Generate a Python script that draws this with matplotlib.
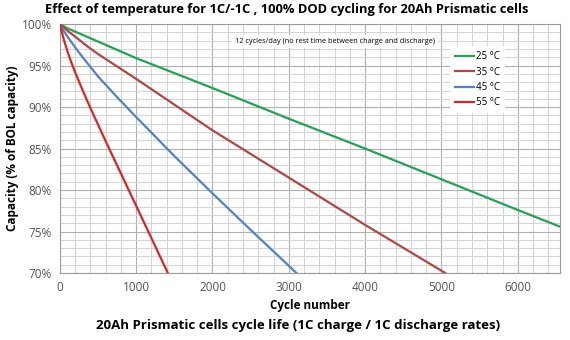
import matplotlib
matplotlib.use("Agg")
import matplotlib.pyplot as plt
from matplotlib.ticker import MultipleLocator, FuncFormatter

plt.rcParams['font.family'] = ['Open Sans', 'DejaVu Sans']

labels = ["25 °C", "35 °C", "45 °C", "55 °C"]
colors = ["#22a254", "#b04646", "#4f82c8", "#dc2424"]

c25 = [0, 100, 200, 350, 500, 750, 1000, 2000, 3000, 4000, 5000, 6000, 6550]
v25 = [100, 99.5, 99.1, 98.5, 97.9, 96.9, 95.9, 92.3, 88.6, 85.0, 81.3, 77.6, 75.6]

c35 = [0, 100, 200, 350, 500, 750, 1000, 2000, 3000, 4000, 5050]
v35 = [100, 99.2, 98.5, 97.4, 96.4, 94.9, 93.4, 87.2, 81.5, 75.8, 70.0]

c45 = [0, 50, 100, 200, 300, 500, 750, 1000, 1500, 2000, 2500, 3100]
v45 = [100, 99.2, 98.5, 97.2, 96.0, 93.7, 91.2, 88.8, 84.1, 79.6, 75.2, 70.0]

c55 = [0, 50, 100, 150, 200, 300, 400, 500, 600, 800, 1000, 1200, 1415]
v55 = [100, 98.2, 96.7, 95.4, 94.2, 92.0, 89.9, 87.9, 85.9, 82.0, 78.1, 74.2, 70.0]

series = [(c25, v25), (c35, v35), (c45, v45), (c55, v55)]

fig = plt.figure(figsize=(5.7, 3.4), dpi=100)
ax = fig.add_axes([0.105, 0.197, 0.877, 0.732])

for (c, v), lab, col in zip(series, labels, colors):
    ax.plot(c, v, color=col, lw=1.6, label=lab, zorder=3)

ax.set_xlim(0, 6550)
ax.set_ylim(70, 100)
ax.xaxis.set_major_locator(MultipleLocator(1000))
ax.xaxis.set_minor_locator(MultipleLocator(200))
ax.yaxis.set_major_locator(MultipleLocator(5))
ax.yaxis.set_minor_locator(MultipleLocator(1))
ax.yaxis.set_major_formatter(FuncFormatter(lambda v, p: f"{v:.0f}%"))
ax.grid(which='major', color='#b0b0b0', lw=0.8)
ax.grid(which='minor', color='#d4d4d4', lw=0.7)
ax.set_axisbelow(True)
for s in ax.spines.values():
    s.set_color('#9a9a9a')
ax.tick_params(which='both', length=0, labelsize=8.5, colors='#555555', pad=6)

fig.text(0.503, 0.972, "Effect of temperature for 1C/-1C , 100% DOD cycling for 20Ah Prismatic cells",
         ha='center', va='center', fontsize=9.3, fontweight='bold')
ax.set_ylabel("Capacity (% of BOL capacity)", fontsize=8.5, fontweight='bold', labelpad=2)
ax.set_xlabel("Cycle number", fontsize=8.5, fontweight='bold', labelpad=3)
fig.text(0.523, 0.042, "20Ah Prismatic cells cycle life (1C charge / 1C discharge rates)",
         ha='center', va='center', fontsize=9.5, fontweight='bold')

ax.text(0.55, 0.93, "12 cycles/day (no rest time between charge and discharge)",
        transform=ax.transAxes, ha='center', va='center', fontsize=5.3,
        bbox=dict(facecolor='white', edgecolor='none', pad=2), zorder=4)

leg = ax.legend(loc='upper right', bbox_to_anchor=(0.9, 0.93), frameon=True,
                fontsize=7, handlelength=2.0, handletextpad=0.2,
                labelspacing=0.45, borderpad=0.5)
leg.get_frame().set_edgecolor('none')
leg.get_frame().set_facecolor('white')
leg.get_frame().set_alpha(1)
leg.get_frame().set_boxstyle('square', pad=0)

fig.savefig("out.png", dpi=100)
